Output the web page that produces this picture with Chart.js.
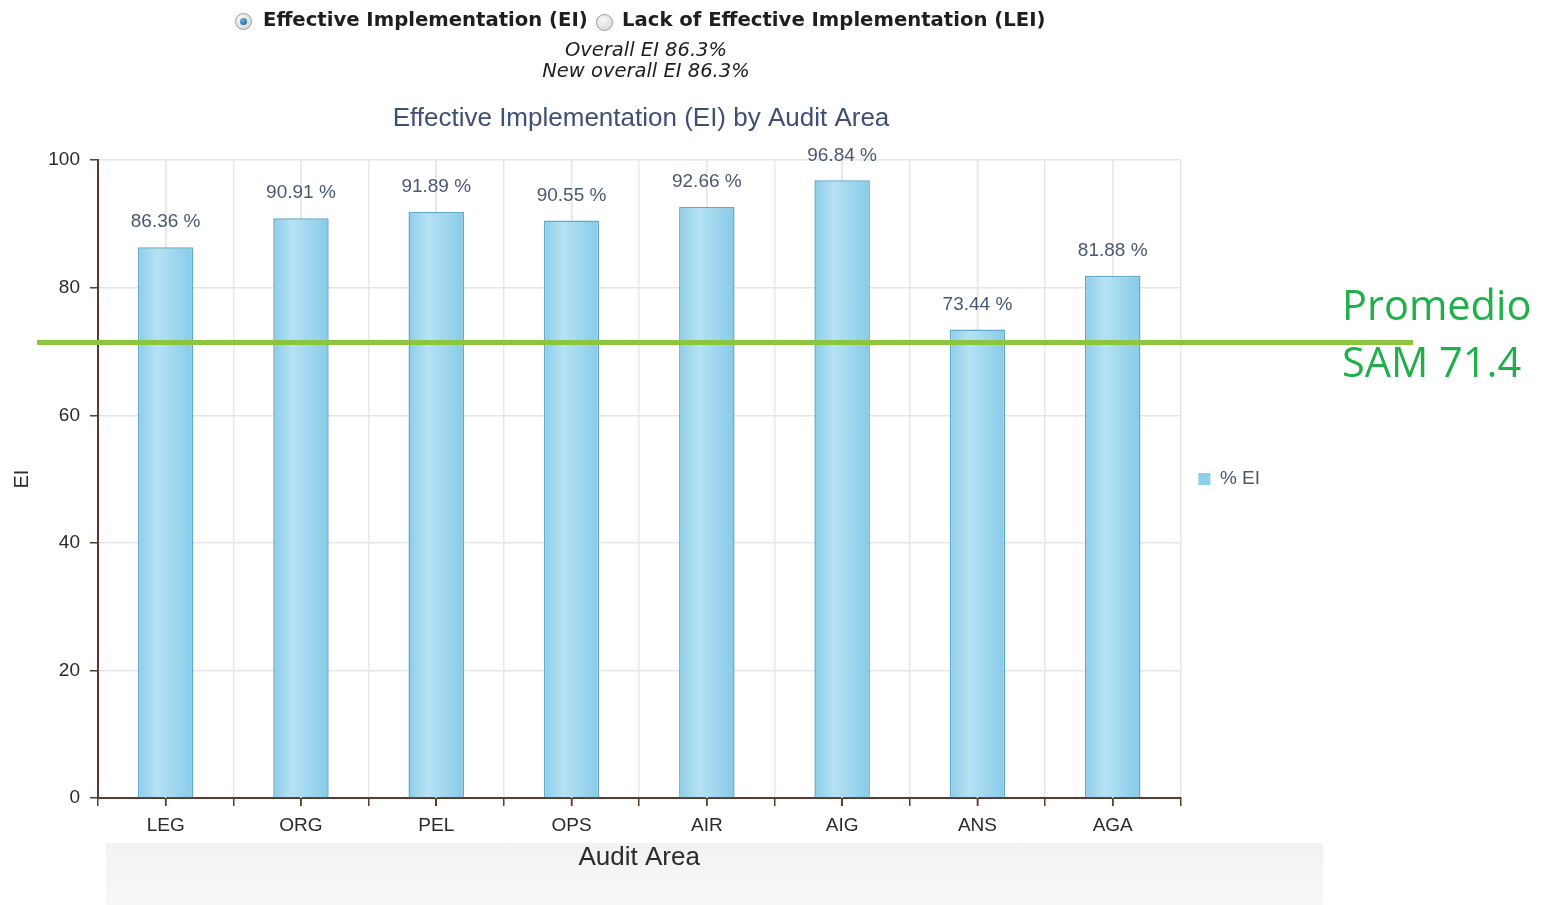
<!DOCTYPE html>
<html>
<head>
<meta charset="utf-8">
<script src="https://cdn.jsdelivr.net/npm/chart.js@4.4.1/dist/chart.umd.min.js"></script>
<style>
  body { margin: 0; background: #fff; width: 1546px; height: 905px; overflow: hidden; position: relative; }
  #grayBox { position: absolute; left: 106px; top: 843px; width: 1217px; height: 62px; background: linear-gradient(#f2f2f2, #f8f8f8); }
  #chart { position: absolute; left: 0; top: 0; }
  .hdr { position: absolute; font-family: "DejaVu Sans", sans-serif; color: #1e1e1e; white-space: nowrap; }
  .radio { position: absolute; width: 15px; height: 15px; border-radius: 50%; border: 1px solid #9a9a9a; background: radial-gradient(circle at 40% 35%, #fafafa, #cfcfcf); }
  .radio.on::after { content: ""; position: absolute; left: 4px; top: 4px; width: 7px; height: 7px; border-radius: 50%; background: radial-gradient(circle at 40% 35%, #6fb6e6, #0d4f86); }
  .opt { top: 8px; font-weight: bold; font-size: 19.65px; }
  .sub { font-style: italic; font-size: 19.5px; left: 0; width: 1292px; text-align: center; }
  #promedio { position: absolute; left: 1342px; top: 276px; font-family: "Open Sans", "Noto Sans", sans-serif; font-size: 41.5px; line-height: 57px; color: #1fb04b; }
</style>
</head>
<body>
<div id="grayBox"></div>
<canvas id="chart" width="1546" height="905"></canvas>

<div class="radio on" style="left:235px; top:13px;"></div>
<div class="hdr opt" style="left:263px;">Effective Implementation (EI)</div>
<div class="radio" style="left:596px; top:14px;"></div>
<div class="hdr opt" style="left:622px;">Lack of Effective Implementation (LEI)</div>
<div class="hdr sub" style="top:38px;">Overall EI 86.3%</div>
<div class="hdr sub" style="top:59px;">New overall EI 86.3%</div>
<div id="promedio">Promedio<br>SAM 71.4</div>

<script>
// datos
var areas = ["LEG", "ORG", "PEL", "OPS", "AIR", "AIG", "ANS", "AGA"];
var valoresEI = [86.36, 90.91, 91.89, 90.55, 92.66, 96.84, 73.44, 81.88];
var ticksY = [0, 20, 40, 60, 80, 100];
var promedioSAM = 71.4;

var marron = "#5b3b30";
var fonte = "'Liberation Sans', Arial, sans-serif";
var larguraBarra = 0.41;

// degradado horizontal de cada barra
function corBarra(ctx) {
    var chart = ctx.chart;
    var x = chart.scales.x;
    if (!x || !chart.chartArea || ctx.dataIndex === undefined) return "#9dd6ee";
    var centro = x.getPixelForValue(ctx.dataIndex);
    var larg = (x.width / areas.length) * larguraBarra;
    if (!isFinite(centro) || !isFinite(larg)) return "#9dd6ee";
    var g = chart.ctx.createLinearGradient(centro - larg / 2, 0, centro + larg / 2, 0);
    g.addColorStop(0, "#8ccde8");
    g.addColorStop(0.35, "#b6e2f4");
    g.addColorStop(1, "#87cbe8");
    return g;
}

// grade e marcas no centro de cada área (a grade das bordas vem do eixo)
var gradeCentro = {
    id: "gradeCentro",
    beforeDatasetsDraw: function(chart) {
        var x = chart.scales.x;
        var area = chart.chartArea;
        if (!x || !area) return;
        var ctx = chart.ctx;
        ctx.save();
        ctx.lineWidth = 1.5;
        areas.forEach(function(a, i) {
            var px = x.getPixelForValue(i);
            if (!isFinite(px)) return;
            ctx.strokeStyle = "#e8e8e8";
            ctx.beginPath();
            ctx.moveTo(px, area.top);
            ctx.lineTo(px, area.bottom);
            ctx.stroke();
            ctx.strokeStyle = marron;
            ctx.beginPath();
            ctx.moveTo(px, area.bottom);
            ctx.lineTo(px, area.bottom + 8);
            ctx.stroke();
        });
        ctx.restore();
    }
};

// rótulos acima das barras
var rotulos = {
    id: "rotulos",
    afterDatasetsDraw: function(chart) {
        var ctx = chart.ctx;
        var meta = chart.getDatasetMeta(0);
        ctx.save();
        ctx.font = "19px " + fonte;
        ctx.fillStyle = "#4b5872";
        ctx.textAlign = "center";
        ctx.textBaseline = "middle";
        meta.data.forEach(function(bar, i) {
            ctx.fillText(valoresEI[i].toFixed(2) + " %", bar.x, bar.y - 25);
        });
        ctx.restore();
    }
};

// linha do promedio SAM
var linhaPromedio = {
    id: "linhaPromedio",
    afterDraw: function(chart) {
        var ctx = chart.ctx;
        var y = chart.scales.y.getPixelForValue(promedioSAM);
        ctx.save();
        ctx.strokeStyle = "#8cc63e";
        ctx.lineWidth = 5;
        ctx.beginPath();
        ctx.moveTo(37, y);
        ctx.lineTo(1413, y);
        ctx.stroke();
        ctx.restore();
    }
};

window.onload = function() {
    var ctx = document.getElementById("chart");
    new Chart(ctx, {
        type: "bar",
        data: {
            labels: areas,
            datasets: [{
                label: "% EI",
                data: valoresEI,
                xAxisID: "x",
                backgroundColor: corBarra,
                borderColor: "#62a9c9",
                borderWidth: 1.5,
                barPercentage: larguraBarra,
                categoryPercentage: 1
            }]
        },
        options: {
            responsive: false,
            animation: false,
            layout: { padding: { top: 80, right: 276, bottom: 0, left: 12 } },
            plugins: {
                title: {
                    display: true,
                    text: "Effective Implementation (EI) by Audit Area",
                    color: "#3f5073",
                    font: { family: fonte, size: 26, weight: "normal" },
                    padding: { top: 23, bottom: 26 }
                },
                legend: {
                    position: "right",
                    fullSize: false,
                    labels: {
                        boxWidth: 12,
                        boxHeight: 12,
                        padding: 18,
                        color: "#4d566b",
                        font: { family: fonte, size: 19 },
                        generateLabels: function(chart) {
                            return Chart.defaults.plugins.legend.labels.generateLabels(chart).map(function(l) {
                                l.fillStyle = "#8ccfea";
                                l.strokeStyle = "#8ccfea";
                                l.lineWidth = 0;
                                return l;
                            });
                        }
                    }
                },
                tooltip: { enabled: false }
            },
            scales: {
                y: {
                    min: 0,
                    max: 100,
                    afterBuildTicks: function(scale) {
                        scale.ticks = ticksY.map(function(v) { return { value: v }; });
                    },
                    afterFit: function(scale) { scale.width = 86; },
                    grid: { color: "#e3e6ee", tickColor: marron, tickLength: 8, lineWidth: 1.5 },
                    border: { color: marron, width: 2 },
                    ticks: {
                        color: "#2b2b2b",
                        padding: 10,
                        font: { family: fonte, size: 19 }
                    },
                    title: {
                        display: true,
                        text: "EI",
                        color: "#2b2b2b",
                        font: { family: fonte, size: 20, lineHeight: 1 },
                        padding: { top: 0, bottom: 0 }
                    }
                },
                x2: {
                    type: "linear",
                    position: "bottom",
                    weight: 0,
                    min: 0,
                    max: areas.length - 0.5,
                    ticks: { display: false, stepSize: 0.5 },
                    afterFit: function(scale) { scale.height = 8; },
                    grid: { color: "#e8e8e8", tickColor: marron, tickLength: 8, lineWidth: 1.5 },
                    border: { color: marron, width: 2 }
                },
                x: {
                    position: "bottom",
                    weight: 1,
                    grid: { display: false },
                    border: { display: false },
                    afterFit: function(scale) { scale.height = 99; },
                    ticks: {
                        color: "#2b2b2b",
                        padding: 0,
                        font: { family: fonte, size: 19 }
                    },
                    title: {
                        display: true,
                        text: "Audit Area",
                        color: "#2b2b2b",
                        font: { family: fonte, size: 26 },
                        padding: { top: 4, bottom: 32 }
                    }
                }
            }
        },
        plugins: [gradeCentro, rotulos, linhaPromedio]
    });
};
</script>
</body>
</html>
